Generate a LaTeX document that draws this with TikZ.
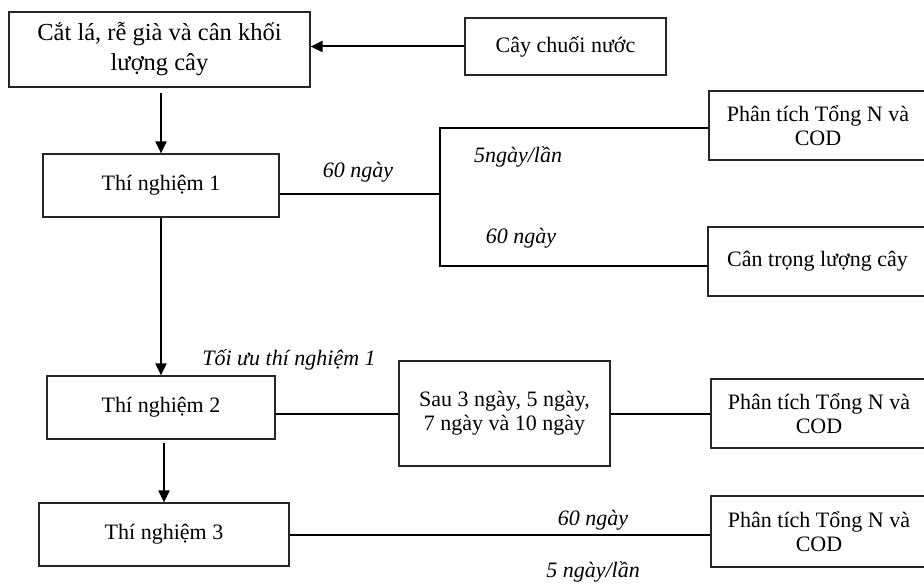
\documentclass[tikz,border=0pt]{standalone}
\usepackage{fontspec}
\setmainfont{Liberation Serif}
\usetikzlibrary{arrows.meta}
\begin{document}
\begin{tikzpicture}[x=1pt,y=-1pt,
  box/.style={draw=black!85, line width=1.2pt, inner sep=0pt, align=center, font=\fontsize{22}{24}\selectfont},
  bigbox/.style={box, font=\fontsize{24.5}{30}\selectfont},
  conn/.style={line width=2pt, black},
  arr/.style={conn, -{Triangle[length=12pt,width=11pt]}},
  lbl/.style={font=\fontsize{22}{24}\selectfont\itshape, inner sep=0pt}]
\useasboundingbox (0,0) rectangle (924,585);
% boxes
\node[bigbox, minimum width=301pt, minimum height=75pt] (cut) at (159.5,49.5) {Cắt lá, rễ già và cân khối\\lượng cây};
\node[box, minimum width=201pt, minimum height=57pt] (chuoi) at (565.5,46.5) {Cây chuối nước};
\node[box, minimum width=236pt, minimum height=63pt] (tn1) at (161,185.5) {Thí nghiệm 1};
\node[box, minimum width=218pt, minimum height=69pt] (p1) at (818,125.5) {Phân tích Tổng N và\\COD};
\node[box, minimum width=219pt, minimum height=69pt] (can) at (817.5,261.5) {Cân trọng lượng cây};
\node[box, minimum width=228pt, minimum height=63pt] (tn2) at (161,407.5) {Thí nghiệm 2};
\node[box, minimum width=211pt, minimum height=105pt] (sau) at (504.5,413.5) {Sau 3 ngày, 5 ngày,\\7 ngày và 10 ngày};
\node[box, minimum width=216pt, minimum height=69pt] (p2) at (819,413.5) {Phân tích Tổng N và\\COD};
\node[box, minimum width=250pt, minimum height=63pt] (tn3) at (164,534.5) {Thí nghiệm 3};
\node[box, minimum width=216pt, minimum height=71pt] (p3) at (819,531.5) {Phân tích Tổng N và\\COD};
% junction points
\coordinate (j1) at (440,194);
\coordinate (jt) at (440,128);
\coordinate (jb) at (440,266);
% connectors
\draw[arr] (chuoi.west) -- (chuoi.west -| cut.east);
\draw[arr] ([yshift=-5pt]tn1.north |- cut.south) -- (tn1.north);
\draw[conn] (tn1.east |- j1) -- (j1);
\draw[conn] (p1.west |- jt) -- (jt) -- (jb) -- (can.west |- jb);
\draw[arr] (tn1.south) -- (tn2.north);
\draw[arr] ([yshift=-3pt]tn2.south -| tn3.north) -- (tn3.north);
\draw[conn] (sau.west -| tn2.east) -- (sau.west);
\draw[conn] (sau.east) -- (sau.east -| p2.west);
\draw[conn] (tn3.east) -- (tn3.east -| p3.west);
% labels
\node[lbl] (l60a) at (358,172) {60 ngày};
\node[lbl] (l5a) at (518,157) {5ngày/lần};
\node[lbl] (l60b) at (521,238) {60 ngày};
\node[lbl] (ltoi) at (289,360) {Tối ưu thí nghiệm 1};
\node[lbl] (l60c) at (593,520) {60 ngày};
\node[lbl] (l5c) at (593,572) {5 ngày/lần};
\end{tikzpicture}
\end{document}
